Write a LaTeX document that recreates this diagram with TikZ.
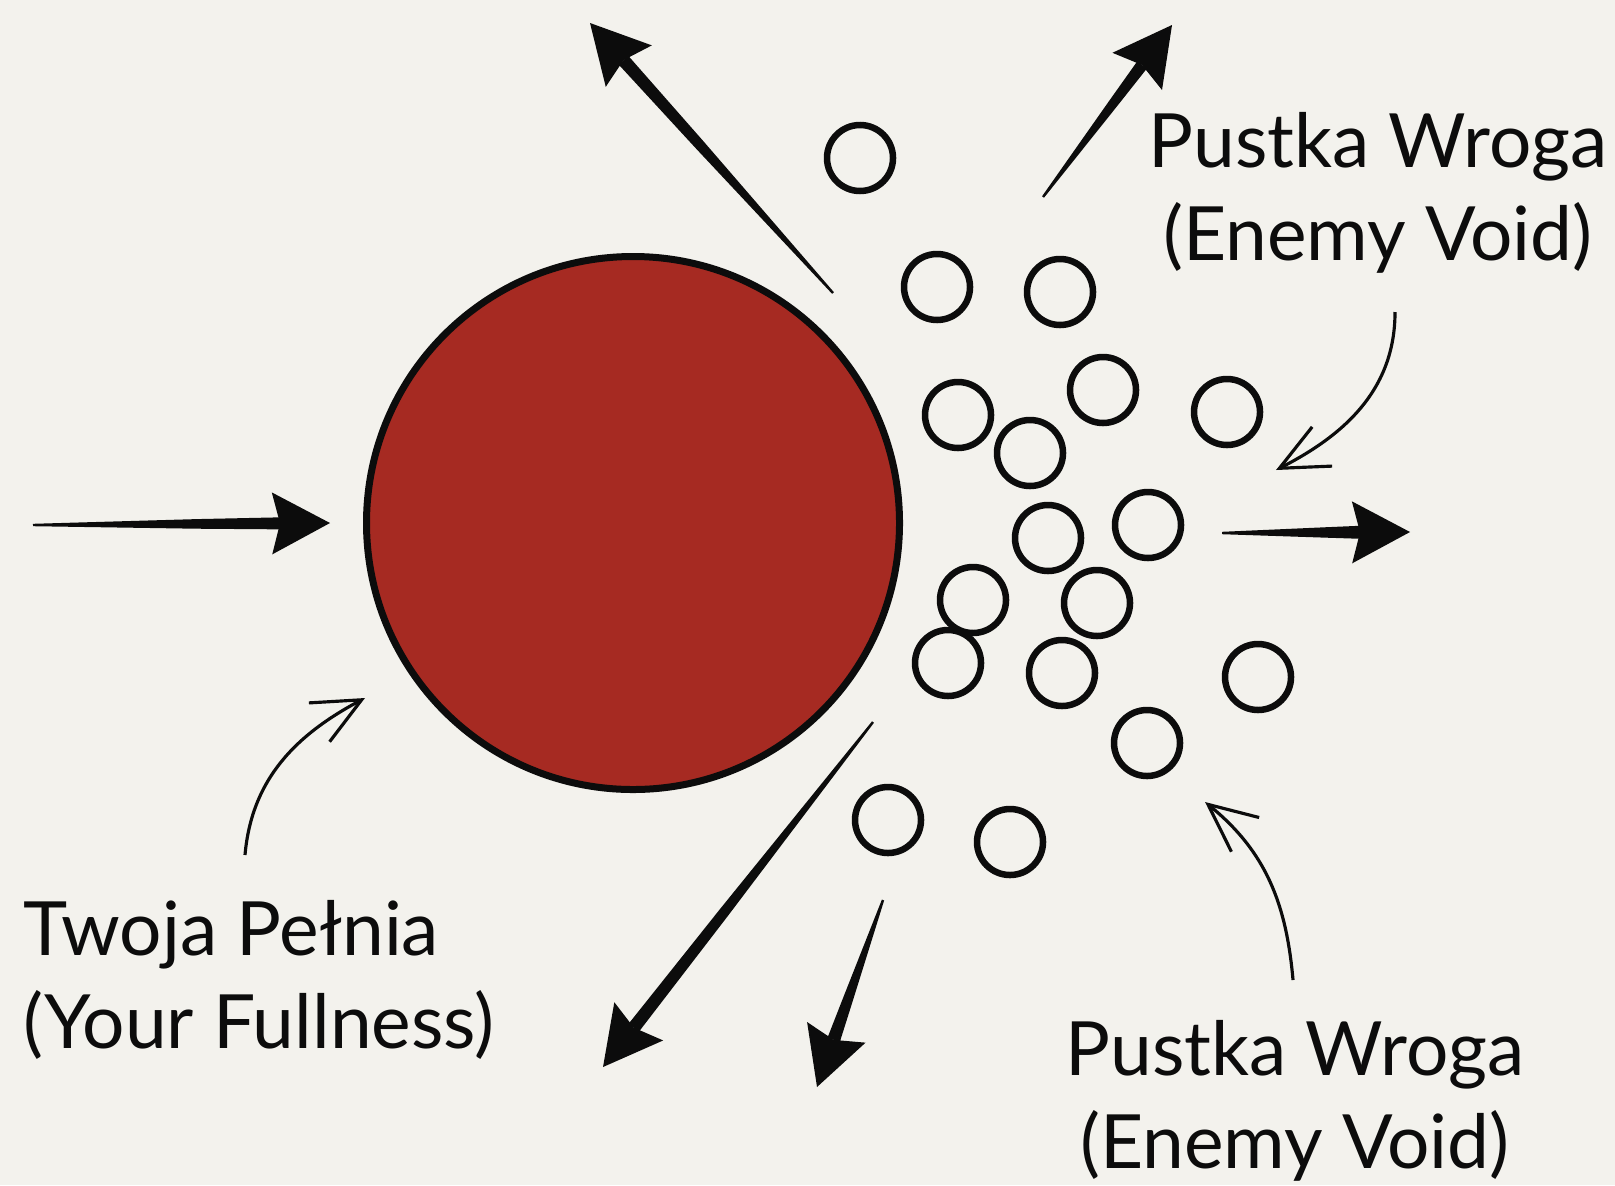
\documentclass[tikz,border=0pt]{standalone}
\usepackage{fontspec}
\setmainfont{Lato}
\usetikzlibrary{arrows.meta,calc}
\begin{document}
\begin{tikzpicture}[every node/.style={font=\fontsize{21.3}{26.2}\selectfont, inner sep=0pt}]
    \definecolor{paper}{RGB}{243,242,237}
    \definecolor{fullred}{RGB}{166,42,34}
    \definecolor{ink}{RGB}{12,12,12}

    % Fond papier et cadre de la page.
    \fill[paper] (0,0) rectangle (16.15,11.85);
    \useasboundingbox (0,0) rectangle (16.15,11.85);

    % Pelna kula po lewej.
    \filldraw[fill=fullred, draw=ink, line width=0.07cm] (6.33,6.62) circle[radius=2.665];

    \newcommand{\voidring}[2]{%
        \draw[ink, line width=0.065cm] (#1,#2) circle[radius=0.33];
    }

    % Pierscienie pustki wroga.
    \voidring{8.60}{10.27}
    \voidring{9.37}{8.98}
    \voidring{10.60}{8.93}
    \voidring{11.03}{7.95}
    \voidring{12.27}{7.73}
    \voidring{9.58}{7.70}
    \voidring{10.30}{7.32}
    \voidring{10.48}{6.47}
    \voidring{11.48}{6.60}
    \voidring{9.73}{5.85}
    \voidring{10.97}{5.82}
    \voidring{9.48}{5.22}
    \voidring{10.62}{5.12}
    \voidring{12.58}{5.08}
    \voidring{11.47}{4.42}
    \voidring{8.88}{3.65}
    \voidring{10.10}{3.43}

    \newcommand{\thrust}[3]{%
        \coordinate (hb) at ($(#2)!0.58cm!(#1)$);
        \coordinate (hn) at ($(#2)!0.50cm!(#1)$);
        \coordinate (hm) at ($(#2)!0.45!(#1)$);
        \fill[ink] ($(#1)!0.012cm!90:(#2)$) -- ($(hm)!0.8*#3!90:(#2)$)
            -- ($(hn)!#3!90:(#2)$) -- ($(hn)!#3!-90:(#2)$)
            -- ($(hm)!0.8*#3!-90:(#2)$) -- ($(#1)!0.012cm!-90:(#2)$) -- cycle;
        \fill[ink] (#2) -- ($(hb)!0.31cm!90:(#2)$) -- (hn)
            -- ($(hb)!0.31cm!-90:(#2)$) -- cycle;
    }

    % Grosses fleches de poussee.
    \coordinate (inTail) at (0.33,6.60);
    \coordinate (inTip) at (3.30,6.62);
    \coordinate (nwTail) at (8.33,8.92);
    \coordinate (nwTip) at (5.90,11.62);
    \coordinate (neTail) at (10.43,9.88);
    \coordinate (neTip) at (11.72,11.60);
    \coordinate (outTail) at (12.22,6.52);
    \coordinate (outTip) at (14.10,6.53);
    \coordinate (swTail) at (8.73,4.63);
    \coordinate (swTip) at (6.03,1.18);
    \coordinate (sTail) at (8.83,2.85);
    \coordinate (sTip) at (8.17,0.98);
    \thrust{inTail}{inTip}{0.06cm}
    \thrust{nwTail}{nwTip}{0.065cm}
    \thrust{neTail}{neTip}{0.06cm}
    \thrust{outTail}{outTip}{0.065cm}
    \thrust{swTail}{swTip}{0.065cm}
    \thrust{sTail}{sTip}{0.065cm}

    % Podpisy.
    \node[anchor=base, align=center, text=ink] (voidTop) at (13.78,9.25) {Pustka Wroga\\(Enemy Void)};
    \node[anchor=base, align=center, text=ink] (voidBottom) at (12.95,0.17) {Pustka Wroga\\(Enemy Void)};
    \node[anchor=base west, align=left, text=ink] (fullness) at (0.23,1.37) {Twoja Pełnia\\(Your Fullness)};

    % Cienkie strzalki od podpisow.
    \coordinate (topPtrStart) at (13.95,8.73);
    \coordinate (topPtrEnd) at (12.76,7.15);
    \coordinate (botPtrStart) at (12.93,2.05);
    \coordinate (botPtrEnd) at (12.05,3.83);
    \coordinate (leftPtrStart) at (2.45,3.30);
    \coordinate (leftPtrEnd) at (3.65,4.87);
    \draw[ink, line width=0.9pt, -{Straight Barb[length=4.8mm,width=4.4mm]}]
        (topPtrStart) to[out=-90, in=27] (topPtrEnd);
    \draw[ink, line width=0.9pt, -{Straight Barb[length=4.8mm,width=4.4mm]}]
        (botPtrStart) to[out=95, in=-39] (botPtrEnd);
    \draw[ink, line width=0.9pt, -{Straight Barb[length=4.8mm,width=4.4mm]}]
        (leftPtrStart) to[out=85, in=208] (leftPtrEnd);
\end{tikzpicture}
\end{document}
